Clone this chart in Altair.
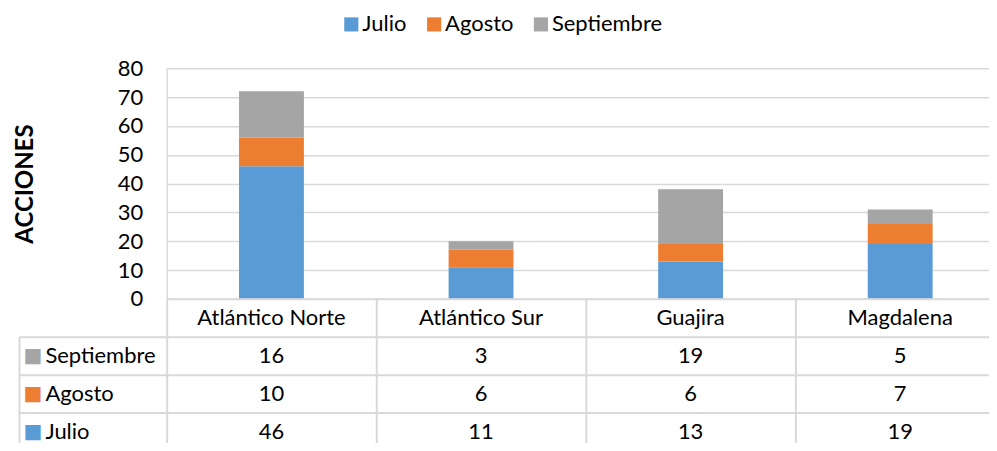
import altair as alt
import pandas as pd

regions = ["Atlántico Norte", "Atlántico Sur", "Guajira", "Magdalena"]
months = ["Julio", "Agosto", "Septiembre"]
julio = [46, 11, 13, 19]
agosto = [10, 6, 6, 7]
septiembre = [16, 3, 19, 5]
colors = ["#5B9BD5", "#ED7D31", "#A5A5A5"]
y_ticks = [0, 10, 20, 30, 40, 50, 60, 70, 80]
table_rows = ["hdr", "Septiembre", "Agosto", "Julio"]

FONT = "Lato"
FS = 22
GRID = "#D9D9D9"

W = 824      # plot width (the last column runs past the page edge, as in the original)
H_TOP = 231
H_TAB = 144  # the last table row runs past the page bottom
COL = 210    # column width
ROW = 38     # table row height

series = {"Julio": julio, "Agosto": agosto, "Septiembre": septiembre}

recs = []
for i, m in enumerate(months):
    for r, v in zip(regions, series[m]):
        recs.append({"region": r, "mes": m, "valor": v, "orden": i})
df = pd.DataFrame(recs)

trecs = [{"region": r, "fila": "hdr", "texto": r} for r in regions]
for m in ["Septiembre", "Agosto", "Julio"]:
    for r, v in zip(regions, series[m]):
        trecs.append({"region": r, "fila": m, "texto": str(v)})
tdf = pd.DataFrame(trecs)

IS_MONTH = "indexof(['Septiembre','Agosto','Julio'], datum.value) >= 0"

nx, ny = len(regions), len(table_rows)
px = (W / COL - (nx - 1)) / 2
py = (H_TAB / ROW - (ny - 1)) / 2
# point scales: centres of the cells, and their edges (for the table lines)
x_center = alt.Scale(type="point", domain=regions, padding=px,
                     align=(COL / 2) / (W - COL * (nx - 1)))
x_edge = alt.Scale(type="point", domain=regions, padding=px, align=0)
y_center = alt.Scale(type="point", domain=table_rows, padding=py,
                     align=(ROW / 2) / (H_TAB - ROW * (ny - 1)))
y_edge = alt.Scale(type="point", domain=table_rows, padding=py, align=0)

bars = alt.Chart(df).mark_bar(width=65).encode(
    x=alt.X("region:N", sort=regions, scale=x_center, axis=None),
    y=alt.Y("valor:Q", stack="zero", scale=alt.Scale(domain=[0, 80], nice=False),
            axis=alt.Axis(values=y_ticks, title="ACCIONES", titleFont=FONT, titleFontSize=24,
                          titleFontWeight="bold", titleColor="#000", titlePadding=80,
                          labelFont=FONT, labelFontSize=FS, labelColor="#000", labelPadding=24,
                          ticks=False, domain=True, domainColor=GRID, domainWidth=1.5,
                          grid=True, gridColor=GRID, gridWidth=1.5)),
    color=alt.Color("mes:N", sort=months, scale=alt.Scale(domain=months, range=colors),
                    legend=alt.Legend(title=None, orient="none", direction="horizontal",
                                      legendX=174, legendY=-55, padding=0, symbolType="square",
                                      symbolSize=200, symbolStrokeWidth=0, symbolOpacity=1,
                                      labelFont=FONT, labelFontSize=FS, labelColor="#000",
                                      labelOffset=0, columnPadding=16)),
    order=alt.Order("orden:Q"),
).properties(width=W, height=H_TOP)

grid_layer = alt.Chart(tdf).mark_point(opacity=0).encode(
    x=alt.X("region:N", sort=regions, scale=x_edge,
            axis=alt.Axis(title=None, labels=False, ticks=False, domain=False, grid=True,
                          gridColor=GRID, gridWidth=2)),
    y=alt.Y("fila:N", sort=table_rows, scale=y_edge,
            axis=alt.Axis(orient="left", title=None, labels=False, domain=False,
                          grid=True, gridColor=GRID, gridWidth=2,
                          ticks=True, tickSize=148, tickWidth=2,
                          tickColor={"condition": {"test": "datum.value === 'hdr'", "value": "transparent"},
                                     "value": GRID})),
)

text_layer = alt.Chart(tdf).mark_text(font=FONT, fontSize=FS, color="#000").encode(
    x=alt.X("region:N", sort=regions, scale=x_center, axis=None),
    y=alt.Y("fila:N", sort=table_rows, scale=y_center,
            axis=alt.Axis(orient="left", title=None,
                          labelExpr=IS_MONTH + " ? datum.value : ''",
                          labelAlign="left", labelPadding=122, labelFont=FONT, labelFontSize=FS,
                          labelColor="#000", ticks=False, domain=False, grid=False)),
    text="texto:N",
)

square_layer = alt.Chart(tdf).mark_point(opacity=0).encode(
    y=alt.Y("fila:N", sort=table_rows, scale=y_center,
            axis=alt.Axis(orient="left", title=None,
                          labelExpr=IS_MONTH + " ? '■' : ''",
                          labelColor={"condition": [
                              {"test": "datum.value === 'Julio'", "value": colors[0]},
                              {"test": "datum.value === 'Agosto'", "value": colors[1]}],
                              "value": colors[2]},
                          labelFont="DejaVu Sans", labelFontSize=20, labelAlign="left",
                          labelPadding=144, ticks=False, domain=False, grid=False)),
)

border_layer = alt.Chart(tdf).mark_point(opacity=0).encode(
    y=alt.Y("fila:N", sort=table_rows, scale=y_edge,
            axis=alt.Axis(orient="left", title=None, labels=False, ticks=False, grid=False,
                          domain=True, domainColor=GRID, domainWidth=2, offset=148,
                          domainDash=[0, ROW, 400])),
)

table = alt.layer(grid_layer, text_layer, square_layer, border_layer).resolve_scale(
    x="independent", y="independent").resolve_axis(x="independent", y="independent").properties(
    width=W, height=H_TAB)

chart = alt.vconcat(bars, table, spacing=0, bounds="flush").properties(
    padding={"left": 5, "top": 5, "right": 0, "bottom": 0}
).configure_view(stroke=None)

chart.save("out.html", embed_options={"renderer": "svg", "actions": False})
